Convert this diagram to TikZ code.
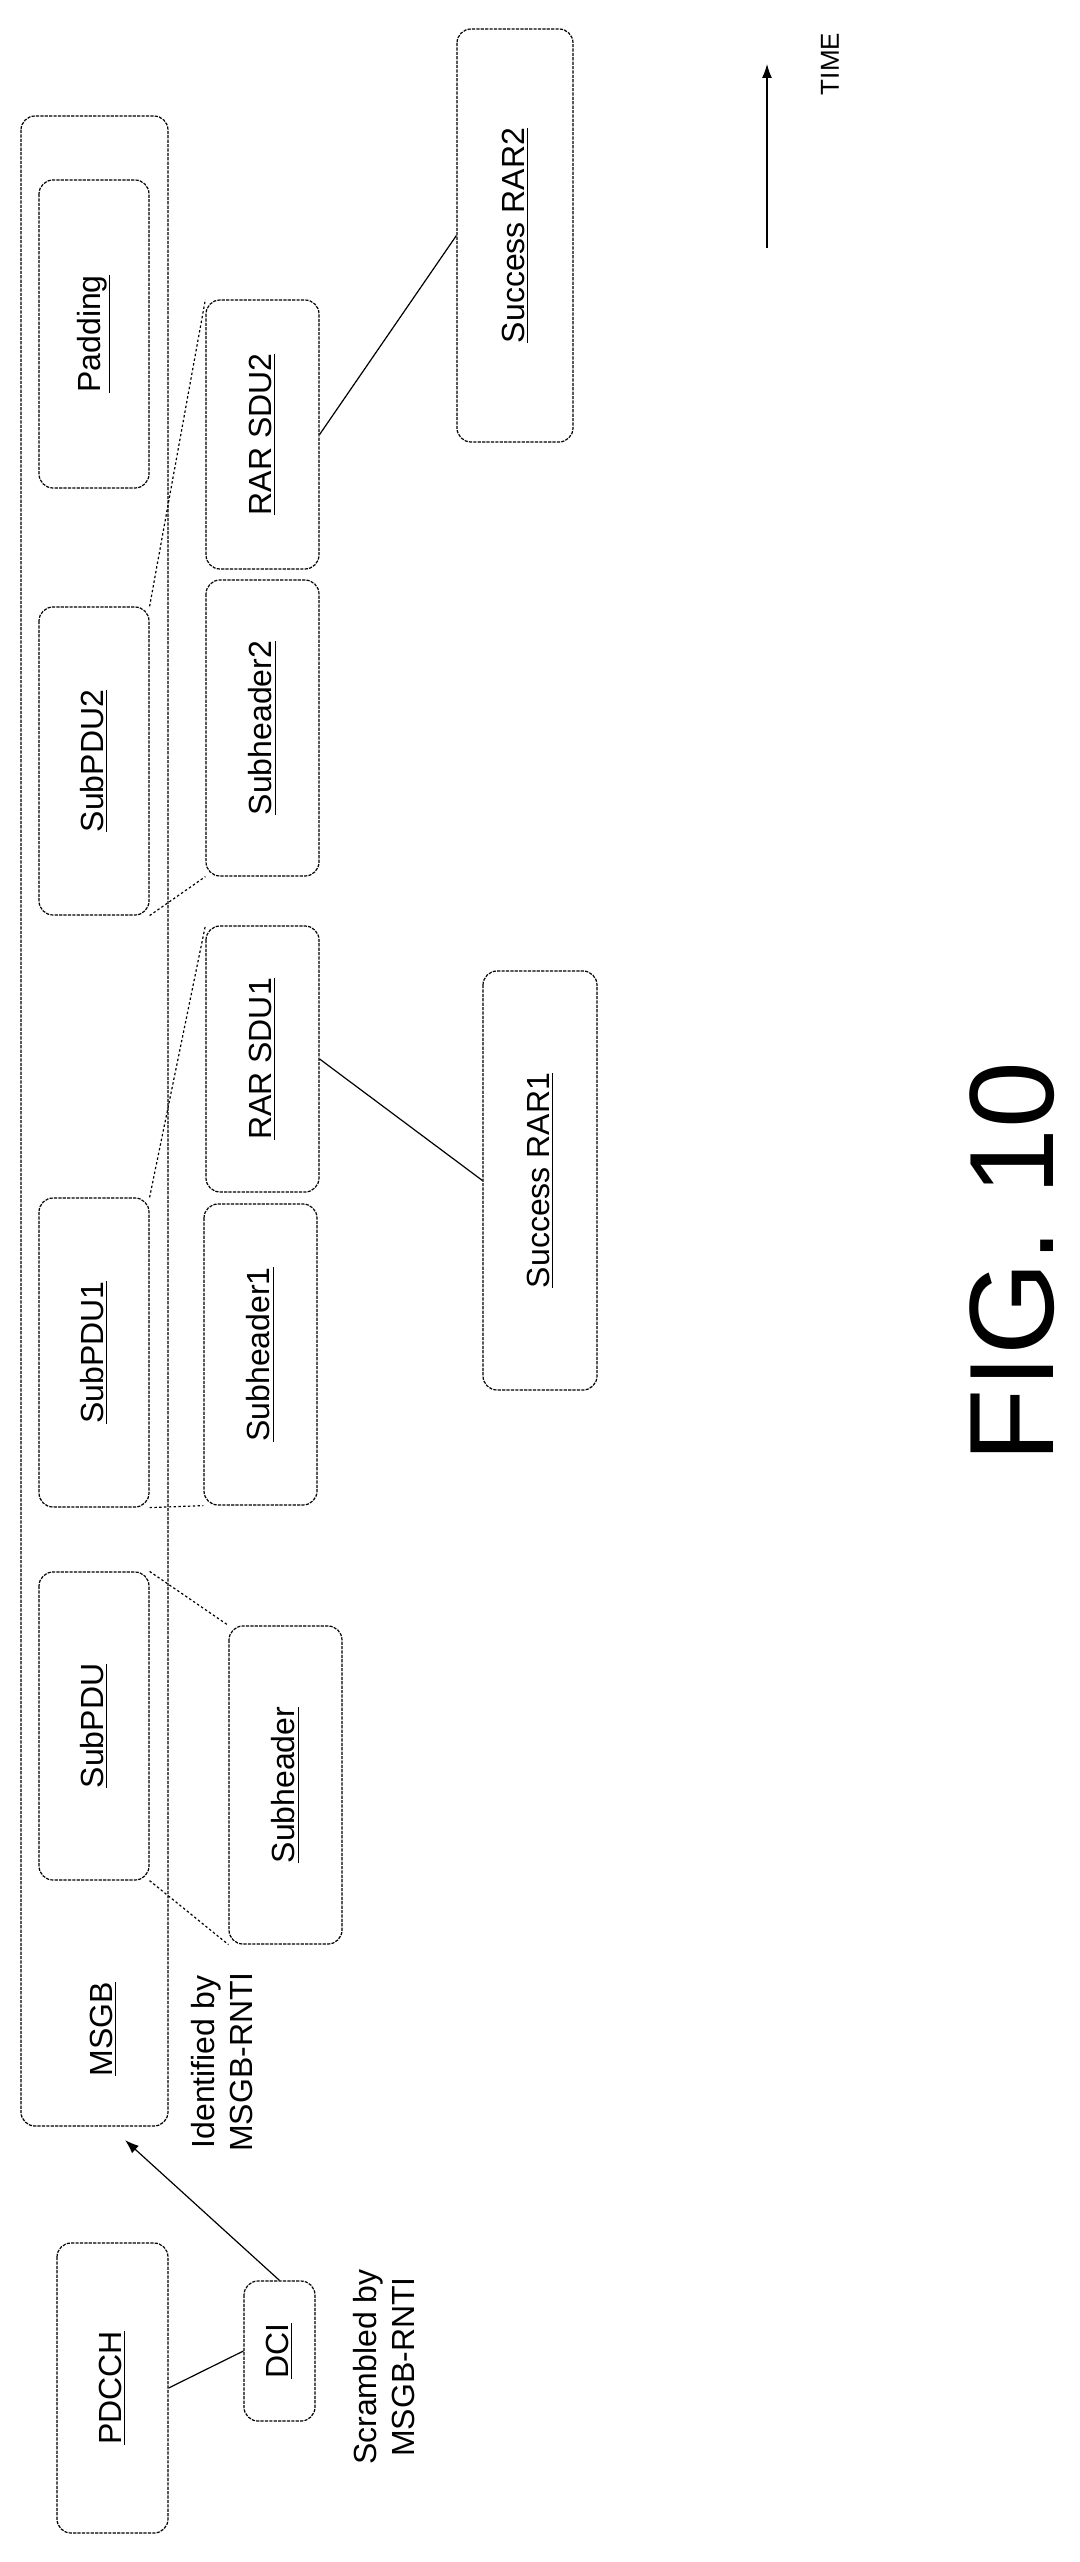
\documentclass[tikz,border=0pt]{standalone}
\usepackage{fontspec}
\setmainfont{Liberation Sans}
\usetikzlibrary{arrows.meta}
\begin{document}
\begin{tikzpicture}[x=0.5pt,y=-0.5pt,
  box/.style={draw, line width=0.6pt, dash pattern=on 1.6pt off 0.6pt, rounded corners=7pt, rotate=90, inner sep=0pt, font=\fontsize{16}{19}\selectfont},
  lbl/.style={rotate=90, font=\fontsize{16}{19}\selectfont, align=center, inner sep=0pt},
  dotl/.style={line width=0.6pt, dash pattern=on 1.2pt off 1.2pt},
  conn/.style={line width=0.6pt},
  arr/.style={line width=0.6pt, -{Latex[length=7pt,width=5pt]}}]
\useasboundingbox (0,0) rectangle (1080,2562);
\newcommand\bx[6]{\node[box, minimum width={(#5-#3)*0.5pt}, minimum height={(#4-#2)*0.5pt}] (#1) at ({(#2+#4)/2},{(#3+#5)/2}) {#6};}
\bx{outer}{21}{116}{168}{2126}{}
\bx{pad}{39}{180}{149}{488}{\underline{Padding}}
\bx{spdu2}{39}{607}{149}{915}{\underline{SubPDU2}}
\bx{spdu1}{39}{1198}{149}{1507}{\underline{SubPDU1}}
\bx{spdu}{39}{1572}{149}{1880}{\underline{SubPDU}}
\bx{rar2}{206}{300}{319}{569}{\underline{RAR SDU2}}
\bx{sh2}{206}{580}{319}{876}{\underline{Subheader2}}
\bx{rar1}{206}{926}{319}{1192}{\underline{RAR SDU1}}
\bx{sh1}{204}{1204}{317}{1505}{\underline{Subheader1}}
\bx{sh}{229}{1626}{342}{1944}{\underline{Subheader}}
\bx{srar2}{457}{29}{573}{442}{\underline{Success RAR2}}
\bx{srar1}{483}{971}{597}{1390}{\underline{Success RAR1}}
\bx{pdcch}{57}{2243}{168}{2533}{\underline{PDCCH}}
\bx{dci}{244}{2281}{315}{2421}{\underline{DCI}}
\node[lbl] (msgb) at (103,2029) {\underline{MSGB}};
\node[lbl] (ident) at (222,2062) {Identified by\\MSGB-RNTI};
\node[lbl] (scr) at (384,2367) {Scrambled by\\MSGB-RNTI};
\node[lbl, font=\fontsize{13}{15}\selectfont] (time) at (830,64) {TIME};
\node[rotate=90, font=\fontsize{60}{64}\selectfont, inner sep=0pt] (fig) at (1012,1262) {FIG. 10};
\coordinate (tb) at (767,248);
\coordinate (tt) at (767,64);
\draw[arr] (tb) -- (tt);
\coordinate (msgbin) at (125,2140);
\draw[arr] (dci.east) -- (msgbin);
\draw[conn] (pdcch.south) -- (dci.north);
\draw[dotl] (spdu2.south east) -- (rar2.north east);
\draw[dotl] (spdu2.south west) -- (sh2.north west);
\draw[dotl] (spdu1.south east) -- (rar1.north east);
\draw[dotl] (spdu1.south west) -- (sh1.north west);
\draw[dotl] (spdu.south east) -- (sh.north east);
\draw[dotl] (spdu.south west) -- (sh.north west);
\draw[conn] (rar2.south) -- (srar2.north);
\draw[conn] (rar1.south) -- (srar1.north);
\end{tikzpicture}
\end{document}
